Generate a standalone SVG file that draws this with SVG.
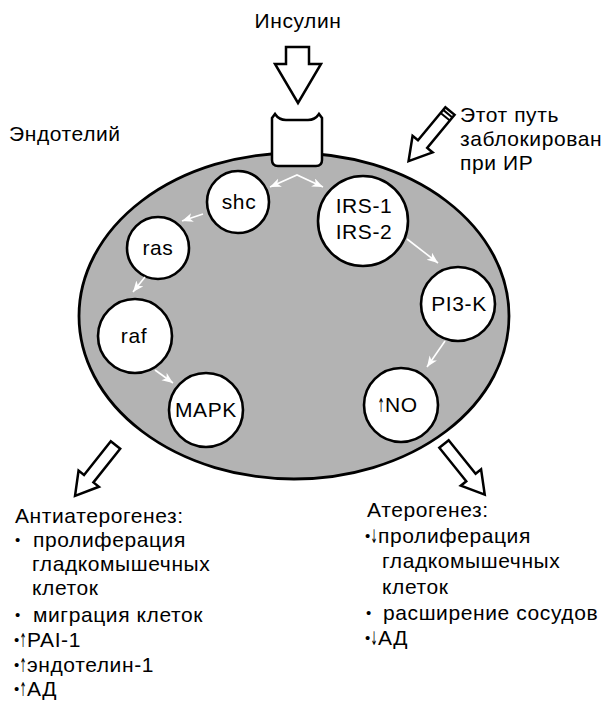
<svg xmlns="http://www.w3.org/2000/svg" width="606" height="702" viewBox="0 0 606 702">
<style>
text{font-family:"Liberation Sans",Arial,sans-serif;font-size:21px;fill:#000;letter-spacing:0.6px}
.c{text-anchor:middle}
.node{fill:#fff;stroke:#000;stroke-width:2.6}
.big{fill:#fff;stroke:#000;stroke-width:2.5;stroke-linejoin:miter}
.wa{fill:none;stroke:#fff;stroke-width:1.6;marker-end:url(#wh)}
.b{font-size:15px;letter-spacing:0}
.ar{font-family:"DejaVu Sans",sans-serif;font-size:19px;letter-spacing:0}
</style>
<defs>
<marker id="wh" markerUnits="userSpaceOnUse" markerWidth="12" markerHeight="10" refX="11" refY="4.5" orient="auto-start-reverse">
<path d="M0,0 L11,4.5 L0,9 L3,4.5 Z" fill="#fff"/>
</marker>
<path id="hollow" d="M0,-6 L43,-6 L43,-13 L65,0 L43,13 L43,6 L0,6 Z"/>
</defs>
<rect width="606" height="702" fill="#fff"/>

<g id="cell">
<ellipse cx="294" cy="316" rx="215" ry="163" fill="#b3b3b3" stroke="#000" stroke-width="2.8"/>
</g>

<g id="insulin">
<text class="c" x="298" y="28">Инсулин</text>
<path class="big" d="M286,47 L309,47 L309,64 L321,64 L298,103 L275,64 L286,64 Z"/>
</g>

<g id="receptor">
<path class="big" d="M272,118 L275,114 Q279,120 286,120 L308,120 Q315,120 319,114 L322,118 L322,160 Q322,166 316,166 L278,166 Q272,166 272,160 Z"/>
</g>

<g id="endothelium"><text x="9" y="141">Эндотелий</text></g>

<g id="blocked">
<g transform="translate(450,111) rotate(129.6)">
<use href="#hollow" class="big"/>
<line x1="3.5" y1="-6" x2="3.5" y2="6" stroke="#000" stroke-width="2"/>
<line x1="7.5" y1="-6" x2="7.5" y2="6" stroke="#000" stroke-width="2"/>
</g>
<text x="460" y="122">Этот путь</text>
<text x="460" y="146">заблокирован</text>
<text x="460" y="170">при ИР</text>
</g>

<g id="shc"><circle class="node" cx="238" cy="202" r="31"/><text class="c" x="239" y="209">shc</text></g>
<g id="ras"><circle class="node" cx="158" cy="248" r="31"/><text class="c" x="158" y="255">ras</text></g>
<g id="raf"><circle class="node" cx="135" cy="336" r="37"/><text class="c" x="134" y="343">raf</text></g>
<g id="mapk"><circle class="node" cx="206" cy="410" r="37"/><text class="c" x="206" y="417">MAPK</text></g>
<g id="irs"><circle class="node" cx="363" cy="221" r="45"/><text class="c" x="364" y="213">IRS-1</text><text class="c" x="364" y="239">IRS-2</text></g>
<g id="pi3k"><circle class="node" cx="458" cy="304" r="37"/><text class="c" x="459" y="311">PI3-K</text></g>
<g id="no"><circle class="node" cx="401" cy="405" r="37"/>
<text class="ar" transform="translate(377.5,412) scale(0.45,1)">↑</text>
<text x="385" y="412">NO</text></g>

<g id="connectors">
<polyline class="wa" points="270,187 297,175 323,187" style="marker-start:url(#wh)"/>
<line class="wa" x1="203" y1="214" x2="182" y2="221"/>
<line class="wa" x1="145" y1="277" x2="133" y2="292"/>
<line class="wa" x1="155" y1="370" x2="173" y2="383"/>
<line class="wa" x1="407" y1="239" x2="438" y2="263"/>
<line class="wa" x1="445" y1="341" x2="427" y2="367"/>
<use href="#hollow" class="big" transform="translate(115.5,445) rotate(128.5)"/>
<use href="#hollow" class="big" transform="translate(444,444) rotate(51.2)"/>
</g>

<g id="antiatherogenesis">
<text x="15" y="523">Антиатерогенез:</text>
<text class="b" x="15" y="545">•</text><text x="33" y="547">пролиферация</text>
<text x="32" y="571">гладкомышечных</text>
<text x="32" y="595">клеток</text>
<text class="b" x="15" y="620">•</text><text x="33" y="622">миграция клеток</text>
<text class="b" x="14" y="645">•</text><text class="ar" transform="translate(19.5,647) scale(0.45,1)">↑</text><text x="27" y="647">PAI-1</text>
<text class="b" x="14" y="670">•</text><text class="ar" transform="translate(19.5,672) scale(0.45,1)">↑</text><text x="27" y="672">эндотелин-1</text>
<text class="b" x="14" y="694">•</text><text class="ar" transform="translate(19.5,696) scale(0.45,1)">↑</text><text x="27" y="696">АД</text>
</g>

<g id="atherogenesis">
<text x="367" y="517">Атерогенез:</text>
<text class="b" x="365" y="541">•</text><text class="ar" transform="translate(370.5,543) scale(0.45,1)">↓</text><text x="378" y="543">пролиферация</text>
<text x="382" y="568">гладкомышечных</text>
<text x="382" y="594">клеток</text>
<text class="b" x="366" y="618">•</text><text x="383" y="620">расширение сосудов</text>
<text class="b" x="365" y="643">•</text><text class="ar" transform="translate(370.5,645) scale(0.45,1)">↓</text><text x="378" y="645">АД</text>
</g>
</svg>
